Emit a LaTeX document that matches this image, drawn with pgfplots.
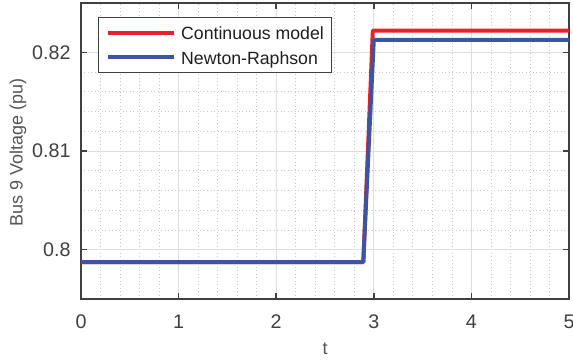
\documentclass[border=0pt]{standalone}
\usepackage{fontspec}
\setmainfont{Liberation Sans}
\usepackage{pgfplots}
\pgfplotsset{compat=1.18}
\definecolor{cred}{RGB}{235,32,39}
\definecolor{cblue}{RGB}{62,84,163}
\definecolor{axc}{RGB}{64,64,64}
\definecolor{labc}{RGB}{85,85,85}
\begin{document}
\begin{tikzpicture}
\path[use as bounding box] (-81pt,-61pt) rectangle (492pt,299pt);
\begin{axis}[
  scale only axis, width=488pt, height=296pt,
  at={(0pt,0pt)}, anchor=south west,
  xmin=0, xmax=5, ymin=0.795, ymax=0.825,
  xtick={0,1,2,3,4,5}, xticklabels={0,1,2,3,4,5},
  ytick={0.8,0.81,0.82}, yticklabels={0.8,0.81,0.82},
  minor x tick num=4, minor y tick num=4,
  grid=both,
  major grid style={draw={rgb,255:red,222;green,222;blue,222}, line width=0.8pt},
  minor grid style={draw={rgb,255:red,200;green,200;blue,200}, line width=0.7pt, dash pattern=on 1pt off 2.5pt},
  axis line style={draw=axc, line width=1.6pt},
  every tick/.style={draw=axc, line width=1.6pt},
  major tick length=6pt, minor tick length=0pt,
  tick align=inside,
  /pgf/number format/assume math mode=true,
  ticklabel style={font=\fontsize{19.7}{22}\selectfont, text=axc},
  xticklabel style={inner sep=0pt, anchor=north, yshift=-16pt},
  yticklabel style={inner sep=0pt, anchor=east, xshift=-10.3pt},
  xlabel={t},
  ylabel={Bus 9 Voltage (pu)},
  label style={font=\fontsize{18}{20}\selectfont, text=labc},
  xlabel style={at={(axis description cs:0.5,-0.186)}, anchor=base},
  ylabel style={at={(axis description cs:-0.1195,0.495)}, anchor=base, rotate=0},
  legend style={at={(axis description cs:0.0348,0.9517)}, anchor=north west,
    draw=axc, line width=1pt, fill=white,
    font=\fontsize{17.7}{20}\selectfont, text=black!88,
    inner xsep=7.7pt, inner ysep=5.7pt, row sep=5.9pt, column sep=5pt,
    nodes={inner sep=0pt, text height=16pt, text depth=2.7pt}},
  legend cell align=left,
  legend image code/.code={\draw[#1] (0pt,0pt) -- (66pt,0pt);},
]
\addplot[draw=cred, line width=4pt, line join=round] coordinates {
  (0,0.79875) (2.893,0.79875) (2.99,0.8222) (5,0.8222)};
\addlegendentry{Continuous model}
\addplot[draw=cblue, line width=4pt, line join=round] coordinates {
  (0,0.79875) (2.892,0.79875) (3.0,0.82126) (5,0.82126)};
\addlegendentry{Newton-Raphson}
\end{axis}
\end{tikzpicture}
\end{document}
